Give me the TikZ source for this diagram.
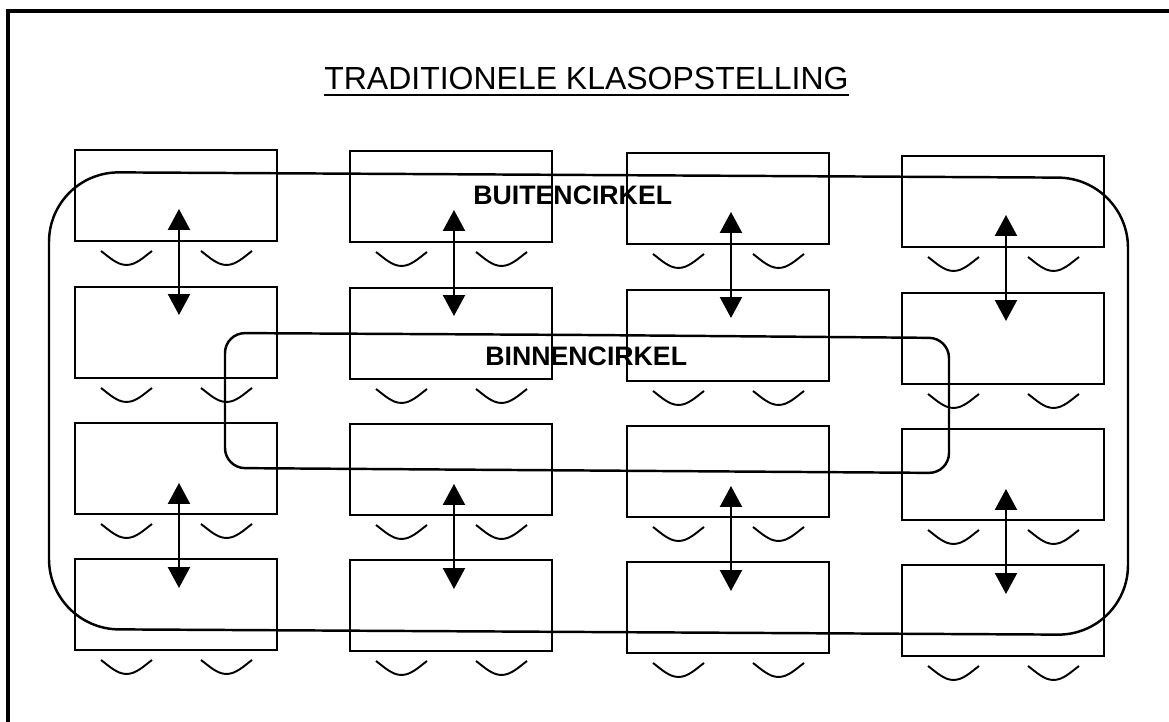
\documentclass[tikz,border=0pt]{standalone}
\usepackage{fontspec}
\setmainfont{Liberation Sans}
\usetikzlibrary{arrows.meta,calc}

\tikzset{
  desk/.style={draw, line width=1.1pt, anchor=north west, inner sep=0pt, outer sep=0pt,
               minimum width=4.04cm, minimum height=1.82cm},
  loop/.style={draw, line width=1.4pt},
  dbl/.style={line width=1.3pt,
              {Triangle[length=0.42cm,width=0.44cm]}-{Triangle[length=0.42cm,width=0.44cm]}},
  label/.style={anchor=base west, inner sep=0pt, font=\fontsize{15.2}{17}\selectfont\bfseries},
  chair/.pic={\draw[line width=1.1pt] (0,0) .. controls (8,6) and (16,14) .. (25.5,14)
                                            .. controls (35,14) and (43,6) .. (51,0);}
}

\begin{document}
\begin{tikzpicture}[x=0.02cm, y=-0.02cm]
  \clip (0,0) rectangle (1169,722);
  \fill[white] (0,0) rectangle (1169,722);

  % page frame
  \draw[line width=2pt] (8,760) -- (8,11) -- (1200,11);

  % title
  \node[anchor=base west, inner sep=0pt, font=\fontsize{18.2}{20}\selectfont] (title) at (324,90)
    {TRADITIONELE KLASOPSTELLING};
  \draw[line width=1.7pt] ([yshift=-0.1cm]title.base west) -- ([yshift=-0.1cm]title.base east);

  % desks with two chairs each
  \foreach \c/\xl/\dy in {1/75/0, 2/350/1, 3/627/3, 4/902/6} {
    \foreach \r/\yt in {1/150, 2/287, 3/423, 4/559} {
      \node[desk] (d\r\c) at (\xl,\yt+\dy) {};
      \pic at ($(d\r\c.south west)+(26,10)$) {chair};
      \pic at ($(d\r\c.south west)+(126,10)$) {chair};
    }
  }

  % outer circle
  \draw[loop, rounded corners=1.4cm]
    (588,175) -- (1128,178) -- (1128,635) -- (49,629) -- (49,172) -- cycle;
  % inner circle
  \draw[loop, rounded corners=0.4cm]
    (587,335) -- (949,338) -- (949,473) -- (225,468) -- (225,333) -- cycle;

  \node[label] (buiten) at (473,205) {BUITENCIRKEL};
  \node[label] (binnen) at (485,366) {BINNENCIRKEL};

  % exchanges between facing desks
  \foreach \c in {1,2,3,4} {
    \draw[dbl] ($(d1\c.south)+(3,-32)$) -- ($(d2\c.north)+(3,28)$);
    \draw[dbl] ($(d3\c.south)+(3,-31)$) -- ($(d4\c.north)+(3,29)$);
  }
\end{tikzpicture}
\end{document}
